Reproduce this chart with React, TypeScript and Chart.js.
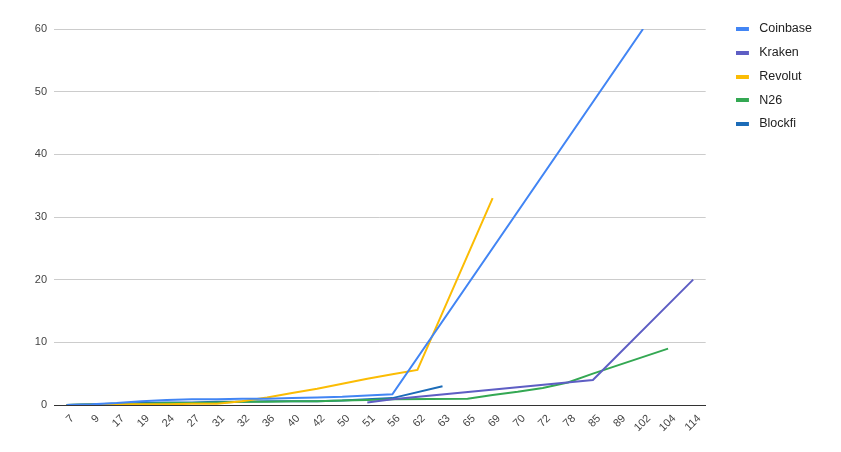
import React, { useEffect, useRef } from "react";
import { Chart, registerables } from "chart.js";

Chart.register(...registerables);

const categories = ["7", "9", "17", "19", "24", "27", "31", "32", "36", "40", "42", "50", "51", "56", "62", "63", "65", "69", "70", "72", "78", "85", "89", "102", "104", "114"];

const coinbase = [0, 0.1, 0.3, 0.6, 0.8, 0.9, 0.9, 1.0, 1.0, 1.1, 1.2, 1.3, 1.5, 1.7, null, null, null, null, null, null, null, null, null, 60, null, null];
const kraken = [null, null, null, null, null, null, null, null, null, null, null, null, 0.4, 0.9, null, null, null, null, null, null, null, 4.0, null, null, null, 20];
const revolut = [0, 0.05, 0.1, 0.1, 0.1, 0.2, 0.2, 0.6, 1.2, 1.9, 2.6, 3.4, 4.2, 4.9, 5.6, null, null, 33, null, null, null, null, null, null, null, null];
const n26 = [0, 0.1, 0.2, 0.2, 0.3, 0.3, 0.4, 0.5, 0.5, 0.6, 0.6, 0.7, 0.8, 0.9, null, null, 1.0, 1.6, 2.1, 2.7, 3.6, 5.0, null, null, 9.0, null];
const blockfi = [0, 0.1, 0.2, 0.3, 0.4, 0.4, 0.5, 0.5, 0.6, 0.6, 0.6, 0.7, 0.9, 1.1, null, 3.0, null, null, null, null, null, null, null, null, null, null];

const seriesNames = ["Coinbase", "Kraken", "Revolut", "N26", "Blockfi"];
const seriesColors = ["#4285F4", "#5E5EC4", "#FBBC04", "#34A853", "#1C6CB8"];
const yTicks = [0, 10, 20, 30, 40, 50, 60];

const FONT = "Arial, 'Liberation Sans', sans-serif";

function makeSwatch(color: string): HTMLCanvasElement {
  const c = document.createElement("canvas");
  c.width = 17;
  c.height = 4;
  const ctx = c.getContext("2d");
  if (ctx) {
    ctx.fillStyle = color;
    ctx.fillRect(0, 0, 13, 4);
  }
  return c;
}

export default function App() {
  const ref = useRef<HTMLCanvasElement | null>(null);

  useEffect(() => {
    if (!ref.current) return;
    const seriesData = [coinbase, kraken, revolut, n26, blockfi];
    const swatches = seriesColors.map(makeSwatch);
    const chart = new Chart(ref.current, {
      type: "line",
      data: {
        labels: categories,
        datasets: seriesNames.map((name, i) => ({
          label: name,
          data: seriesData[i],
          borderColor: seriesColors[i],
          backgroundColor: seriesColors[i],
          borderWidth: 2,
          pointRadius: 0,
          pointHoverRadius: 0,
          tension: 0,
          spanGaps: true,
          fill: false,
        })),
      },
      options: {
        responsive: false,
        animation: false,
        layout: { padding: { top: 11.5, right: 19, bottom: 0, left: 0 } },
        plugins: {
          tooltip: { enabled: false },
          legend: {
            position: "right",
            align: "start",
            labels: {
              usePointStyle: true,
              pointStyleWidth: 17,
              boxHeight: 4,
              padding: 11.25,
              color: "#222222",
              font: { family: FONT, size: 12.5 },
              generateLabels: (c: any) => {
                const items = Chart.defaults.plugins.legend.labels.generateLabels(c);
                return items.map((it: any, i: number) => ({
                  ...it,
                  pointStyle: swatches[it.datasetIndex ?? i],
                  lineWidth: 0,
                }));
              },
            },
          },
        },
        scales: {
          x: {
            offset: true,
            grid: { display: false, drawTicks: false },
            border: { display: true, color: "#333333", width: 1 },
            ticks: {
              autoSkip: false,
              maxRotation: 45,
              minRotation: 45,
              padding: 7,
              labelOffset: 6,
              color: "#444444",
              font: { family: FONT, size: 11 },
            },
            afterFit: (s: any) => {
              s.height = 47;
            },
          },
          y: {
            min: 0,
            max: 60,
            afterBuildTicks: (s: any) => {
              s.ticks = yTicks.map((v) => ({ value: v }));
            },
            grid: { color: "#cccccc", drawTicks: false, lineWidth: 1 },
            border: { display: false },
            ticks: {
              padding: 7,
              color: "#444444",
              font: { family: FONT, size: 11 },
            },
            afterFit: (s: any) => {
              s.width = 54;
              s.paddingTop = 29;
            },
          },
          yPad: {
            position: "right",
            display: true,
            grid: { display: false, drawTicks: false },
            border: { display: false },
            ticks: { display: false },
            afterFit: (s: any) => {
              s.width = 19;
            },
          },
        },
      },
    });
    return () => chart.destroy();
  }, []);

  return (
    <div style={{ position: "absolute", left: 0, top: 0, width: 841, height: 452, background: "#ffffff" }}>
      <canvas ref={ref} width={841} height={452} />
    </div>
  );
}
